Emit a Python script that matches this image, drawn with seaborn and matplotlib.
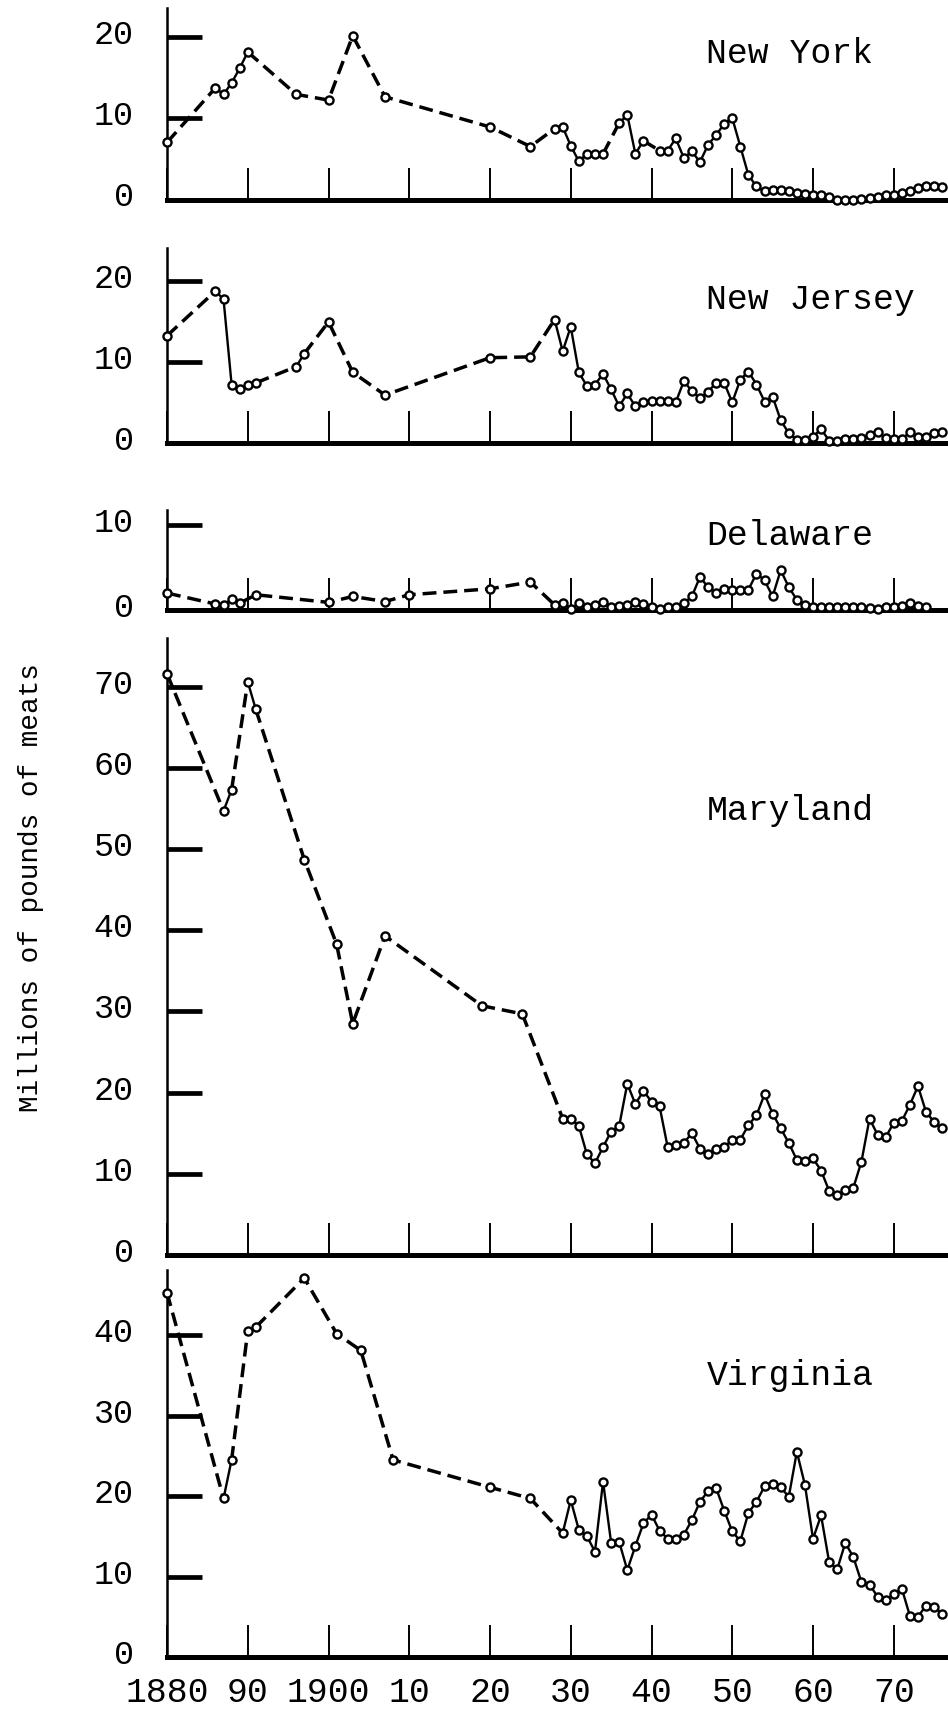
import pandas as pd
import matplotlib
matplotlib.use("Agg")
import matplotlib.pyplot as plt
import matplotlib.transforms as mtransforms
import seaborn as sns

sns.set_theme(style="white")
plt.rcParams["font.family"] = ["Liberation Mono", "DejaVu Sans"]

# ==================================
# DATA (millions of pounds of meats)
# ==================================

ny_years = [1880, 1886, 1887, 1888, 1889, 1890, 1896, 1900, 1903, 1907, 1920, 1925] \
    + list(range(1928, 1935)) + list(range(1936, 1940)) + list(range(1941, 1977))
ny_values = [7.0, 13.7, 12.9, 14.3, 16.1, 18.1, 12.9, 12.2, 20.1, 12.6, 8.9, 6.5,
             8.7, 8.9, 6.6, 4.7, 5.6, 5.6, 5.6,
             9.4, 10.4, 5.6, 7.2,
             6.0, 6.0, 7.5, 5.1, 5.9, 4.6, 6.7, 7.9, 9.3, 10.0, 6.5, 3.0, 1.6, 1.0,
             1.2, 1.2, 1.1, 0.8, 0.7, 0.6, 0.5, 0.3, 0.0, 0.0, 0.0, 0.1, 0.2, 0.3,
             0.5, 0.6, 0.8, 1.1, 1.4, 1.6, 1.7, 1.5]

nj_years = [1880, 1886, 1887, 1888, 1889, 1890, 1891, 1896, 1897, 1900, 1903, 1907,
            1920, 1925] + list(range(1928, 1977))
nj_values = [13.2, 18.7, 17.7, 7.2, 6.7, 7.1, 7.4, 9.4, 11.0, 14.9, 8.7, 5.9, 10.5, 10.6,
             15.2, 11.3, 14.3, 8.7, 7.0, 7.2, 8.5, 6.6, 4.5, 6.1, 4.5, 5.1, 5.2, 5.2,
             5.2, 5.0, 7.6, 6.4, 5.5, 6.3, 7.4, 7.4, 5.0, 7.8, 8.8, 7.2, 5.1, 5.7,
             2.8, 1.2, 0.4, 0.4, 0.8, 1.7, 0.3, 0.2, 0.5, 0.5, 0.6, 1.0, 1.4, 0.6,
             0.5, 0.5, 1.3, 0.8, 0.8, 1.2, 1.4]

de_years = [1880, 1886, 1887, 1888, 1889, 1891, 1900, 1903, 1907, 1910, 1920, 1925] \
    + list(range(1928, 1975))
de_values = [2.0, 0.7, 0.6, 1.3, 0.8, 1.8, 0.9, 1.6, 1.0, 1.8, 2.5, 3.3,
             0.6, 0.8, 0.1, 0.8, 0.4, 0.6, 1.0, 0.4, 0.5, 0.6, 1.0, 0.7, 0.4, 0.1,
             0.4, 0.4, 0.8, 1.6, 3.9, 2.7, 2.0, 2.5, 2.4, 2.4, 2.4, 4.3, 3.5, 1.6,
             4.7, 2.7, 1.2, 0.6, 0.4, 0.3, 0.3, 0.3, 0.3, 0.3, 0.3, 0.2, 0.1, 0.3,
             0.4, 0.5, 0.8, 0.5, 0.4]

md_years = [1880, 1887, 1888, 1890, 1891, 1897, 1901, 1903, 1907, 1919, 1924] \
    + list(range(1929, 1977))
md_values = [71.6, 54.7, 57.3, 70.6, 67.2, 48.7, 38.3, 28.5, 39.3, 30.7, 29.7,
             16.8, 16.8, 15.9, 12.4, 11.3, 13.3, 15.2, 15.9, 21.1, 18.6, 20.2, 18.9,
             18.3, 13.3, 13.6, 13.8, 15.0, 13.1, 12.5, 13.1, 13.3, 14.2, 14.2, 16.0,
             17.2, 19.8, 17.4, 15.6, 13.8, 11.7, 11.6, 11.9, 10.4, 7.9, 7.4, 8.0,
             8.3, 11.5, 16.8, 14.8, 14.5, 16.3, 16.5, 18.5, 20.8, 17.6, 16.4, 15.6]

va_years = [1880, 1887, 1888, 1890, 1891, 1897, 1901, 1904, 1908, 1920, 1925] \
    + list(range(1929, 1977))
va_values = [45.3, 19.7, 24.5, 40.5, 41.0, 47.1, 40.2, 38.1, 24.5, 21.1, 19.7,
             15.4, 19.5, 15.8, 15.0, 13.1, 21.8, 14.2, 14.3, 10.8, 13.8, 16.6, 17.7,
             15.7, 14.7, 14.7, 15.2, 17.0, 19.3, 20.6, 21.0, 18.2, 15.6, 14.4, 17.9,
             19.3, 21.2, 21.5, 21.1, 19.9, 25.5, 21.4, 14.7, 17.6, 11.8, 10.9, 14.2,
             12.4, 9.3, 9.0, 7.5, 7.1, 7.8, 8.5, 5.1, 5.0, 6.4, 6.2, 5.4]

states = ["New York", "New Jersey", "Delaware", "Maryland", "Virginia"]
decades = list(range(1880, 1971, 10))
decade_labels = ["1880", "90", "1900", "10", "20", "30", "40", "50", "60", "70"]

# ==================================
# LAYOUT (pixels in a 948 x 1718 figure)
# ==================================

W, H = 948, 1718
X0, X1 = 167, 946
PX_PER_YEAR = 8.075
x_hi = 1880 + (X1 - X0) / PX_PER_YEAR

# top px, bottom px, ymax, yticks, label y (data)
panels = [
    (ny_years, ny_values, 8, 199.5, 23.5, [0, 10, 20], 18.3),
    (nj_years, nj_values, 248, 443, 24.0, [0, 10, 20], 18.1),
    (de_years, de_values, 510, 610, 11.8, [0, 10], 9.2),
    (md_years, md_values, 638, 1255, 76.0, list(range(0, 71, 10)), 55.2),
    (va_years, va_values, 1270, 1657, 48.1, list(range(0, 41, 10)), 35.4),
]

fig = plt.figure(figsize=(W / 100, H / 100), dpi=100)
fig.patch.set_facecolor("white")


def draw_series(ax, years, values):
    df = pd.DataFrame({"year": years, "value": values})
    n = len(df)
    sparse = [years[i + 1] - years[i] > 1 for i in range(n - 1)]
    i = 0
    while i < n - 1:
        j = i
        while j < n - 1 and sparse[j] == sparse[i]:
            j += 1
        seg = df.iloc[i:j + 1]
        sns.lineplot(
            data=seg, x="year", y="value", ax=ax,
            color="black",
            linewidth=2.5 if sparse[i] else 1.7,
            linestyle=(0, (4.0, 2.0)) if sparse[i] else "-",
            errorbar=None, clip_on=False, zorder=2
        )
        i = j
    sns.scatterplot(
        data=df, x="year", y="value", ax=ax,
        s=34, facecolor="white", edgecolor="black", linewidth=1.7,
        zorder=3, clip_on=False
    )


for k, (yrs, vals, top, bot, ymax, yticks, label_y) in enumerate(panels):
    ax = fig.add_axes([X0 / W, 1 - bot / H, (X1 - X0) / W, (bot - top) / H])
    ax.patch.set_alpha(0)
    draw_series(ax, yrs, vals)

    ax.set_xlim(1880, x_hi)
    ax.set_ylim(0, ymax)
    ax.set_xlabel("")
    ax.set_ylabel("")

    sns.despine(ax=ax)
    ax.spines["bottom"].set_linewidth(3.6)
    ax.spines["left"].set_linewidth(1.8)
    for s in ["bottom", "left"]:
        ax.spines[s].set_color("black")

    ax.set_xticks(decades)
    last = k == len(panels) - 1
    if last:
        ax.set_xticklabels(decade_labels)
    ax.tick_params(axis="x", bottom=True, direction="in", length=23, width=1.4,
                   color="black", labelbottom=last, labelsize=25, pad=14,
                   labelcolor="black")

    ax.set_yticks(yticks)
    ax.set_yticklabels([str(v) for v in yticks])
    ax.tick_params(axis="y", left=True, direction="in", length=25, width=3.4,
                   color="black", labelsize=24, pad=24, labelcolor="black")

    ax.text(1946.8, label_y, states[k], fontsize=25, ha="left",
            va="center_baseline", color="black")

    shift = mtransforms.ScaledTranslation(0, 5 / 100, fig.dpi_scale_trans)
    for lbl in ax.get_yticklabels():
        lbl.set_transform(lbl.get_transform() + shift)

fig.text(31 / W, 1 - 888 / H, "Millions of pounds of meats", rotation=90,
         fontsize=20, ha="center", va="center", color="black")

plt.savefig("out.png", dpi=100)
